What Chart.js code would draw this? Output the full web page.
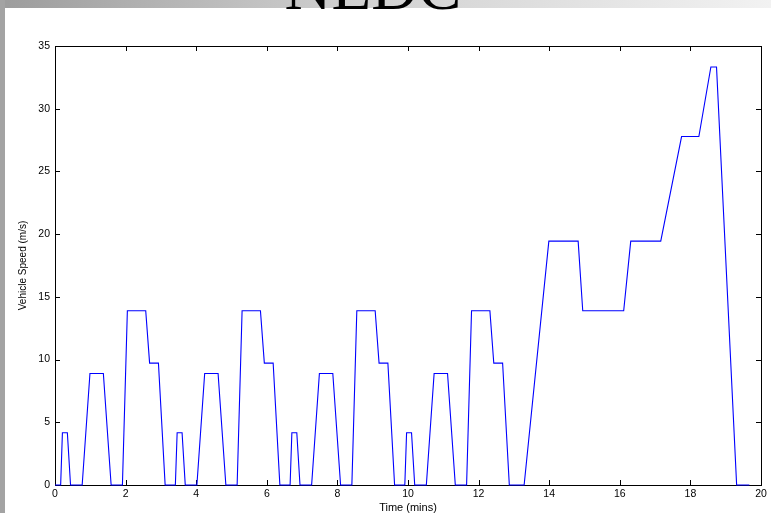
<!DOCTYPE html>
<html>
<head>
<meta charset="utf-8">
<script src="https://cdn.jsdelivr.net/npm/chart.js@4.4.1/dist/chart.umd.min.js"></script>
<style>
  html, body { margin: 0; padding: 0; background: #fff; }
  #page { position: relative; width: 771px; height: 513px; overflow: hidden; background: #fff; }
  #topbar { position: absolute; left: 0; top: 0; width: 771px; height: 8px;
            background: linear-gradient(to right, #9c9c9c 0%, #cfcfcf 45%, #f2f2f2 100%); }
  #leftbar { position: absolute; left: 0; top: 0; width: 5px; height: 513px; background: #a3a3a3; }
  #title { position: absolute; left: 0; width: 746px; top: -45px; text-align: center;
           font-family: "Liberation Serif", "DejaVu Serif", serif; font-size: 65px; line-height: 1; color: #000; }
  #wrap { position: absolute; left: 0; top: 0; width: 771px; height: 513px; }
</style>
</head>
<body>
<div id="page">
  <div id="topbar"></div>
  <div id="leftbar"></div>
  <div id="title">NEDC</div>
  <div id="wrap"><canvas id="chart" width="771" height="513"></canvas></div>
</div>
<script>
// ====== DADOS (tempo em minutos, velocidade em m/s) ======
// 4 ciclos urbanos (ECE-15) + ciclo extra-urbano (EUDC)
const ece1Times  = [0, 0.16, 0.21, 0.35, 0.44, 0.77, 0.99, 1.37, 1.59, 1.91, 2.05, 2.57, 2.68, 2.93, 3.12];
const ece1Speeds = [0, 0,    4.17, 4.17, 0,    0,    8.89, 8.89, 0,    0,    13.89, 13.89, 9.72, 9.72, 0];

const ece2Times  = [3.41, 3.46, 3.60, 3.69, 4.02, 4.24, 4.62, 4.84, 5.16, 5.30, 5.82, 5.93, 6.18, 6.37];
const ece2Speeds = [0,    4.17, 4.17, 0,    0,    8.89, 8.89, 0,    0,    13.89, 13.89, 9.72, 9.72, 0];

const ece3Times  = [6.66, 6.71, 6.85, 6.94, 7.27, 7.49, 7.87, 8.09, 8.41, 8.55, 9.07, 9.18, 9.43, 9.62];
const ece3Speeds = [0,    4.17, 4.17, 0,    0,    8.89, 8.89, 0,    0,    13.89, 13.89, 9.72, 9.72, 0];

const ece4Times  = [9.91, 9.96, 10.10, 10.19, 10.52, 10.74, 11.12, 11.34, 11.66, 11.80, 12.32, 12.43, 12.68, 12.87];
const ece4Speeds = [0,    4.17, 4.17,  0,     0,     8.89,  8.89,  0,     0,     13.89, 13.89, 9.72,  9.72,  0];

const eudcTimes  = [13.29, 13.99, 14.82, 14.95, 16.11, 16.31, 17.16, 17.75, 18.24, 18.58, 18.74, 19.31, 19.67];
const eudcSpeeds = [0,     19.44, 19.44, 13.89, 13.89, 19.44, 19.44, 27.78, 27.78, 33.33, 33.33, 0,     0];

const xTicks = [0, 2, 4, 6, 8, 10, 12, 14, 16, 18, 20];
const yTicks = [0, 5, 10, 15, 20, 25, 30, 35];

const allTimes = [...ece1Times, ...ece2Times, ...ece3Times, ...ece4Times, ...eudcTimes];
const allSpeeds = [...ece1Speeds, ...ece2Speeds, ...ece3Speeds, ...ece4Speeds, ...eudcSpeeds];
const points = allTimes.map((t, i) => ({ x: t, y: allSpeeds[i] }));

// ====== CAIXA E TICKS PARA DENTRO (estilo MATLAB) ======
const boxPlugin = {
  id: "box",
  beforeDatasetsDraw(chart) {
    const { ctx, chartArea: a, scales } = chart;
    const len = 5;
    ctx.save();
    ctx.strokeStyle = "#000";
    ctx.lineWidth = 1;
    ctx.strokeRect(Math.round(a.left) + 0.5, Math.round(a.top) + 0.5,
                   Math.round(a.right - a.left), Math.round(a.bottom - a.top));
    ctx.beginPath();
    xTicks.forEach(v => {
      const x = Math.round(scales.x.getPixelForValue(v)) + 0.5;
      ctx.moveTo(x, a.bottom); ctx.lineTo(x, a.bottom - len);
      ctx.moveTo(x, a.top); ctx.lineTo(x, a.top + len);
    });
    yTicks.forEach(v => {
      const y = Math.round(scales.y.getPixelForValue(v)) + 0.5;
      ctx.moveTo(a.left, y); ctx.lineTo(a.left + len, y);
      ctx.moveTo(a.right, y); ctx.lineTo(a.right - len, y);
    });
    ctx.stroke();
    ctx.restore();
  }
};

const tickFont = { family: "'Liberation Sans', Arial, sans-serif", size: 10.5 };

new Chart(document.getElementById("chart"), {
  type: "line",
  data: {
    datasets: [{
      data: points,
      borderColor: "#0000ff",
      borderWidth: 1.1,
      pointRadius: 0,
      tension: 0,
      fill: false,
      clip: 3
    }]
  },
  options: {
    responsive: false,
    animation: false,
    events: [],
    layout: { padding: { left: 0, top: 46, right: 10, bottom: 0 } },
    plugins: { legend: { display: false }, tooltip: { enabled: false } },
    scales: {
      x: {
        type: "linear",
        min: 0, max: 20,
        afterBuildTicks: s => { s.ticks = xTicks.map(v => ({ value: v })); },
        afterFit: s => { s.height = 28; },
        grid: { display: false, drawTicks: false },
        border: { display: false },
        ticks: { color: "#000", font: tickFont, padding: 3, maxRotation: 0, autoSkip: false },
        title: {
          display: true, text: "Time (mins)", color: "#000",
          font: { family: "'Liberation Sans', Arial, sans-serif", size: 11, lineHeight: 1 },
          padding: { top: 0, bottom: 0 }
        }
      },
      y: {
        type: "linear",
        min: 0, max: 35,
        afterBuildTicks: s => { s.ticks = yTicks.map(v => ({ value: v })); },
        afterFit: s => { s.width = 55; },
        grid: { display: false, drawTicks: false },
        border: { display: false },
        ticks: { color: "#000", font: tickFont, padding: 5, autoSkip: false },
        title: {
          display: true, text: "Vehicle Speed (m/s)", color: "#000",
          font: { family: "'Liberation Sans', Arial, sans-serif", size: 10, lineHeight: 1 },
          padding: { top: 18, bottom: 0 }
        }
      }
    }
  },
  plugins: [boxPlugin]
});
</script>
</body>
</html>
